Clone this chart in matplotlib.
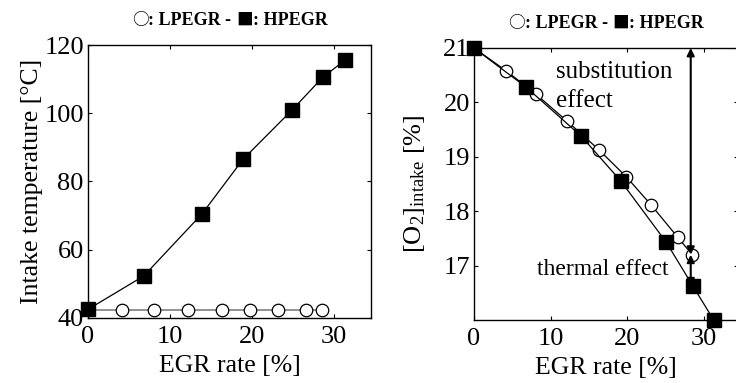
import matplotlib
matplotlib.use('Agg')
import matplotlib.pyplot as plt
from matplotlib.offsetbox import TextArea, HPacker, AnchoredOffsetbox

plt.rcParams['font.family'] = ['Liberation Serif', 'DejaVu Serif']
plt.rcParams['mathtext.fontset'] = 'custom'
plt.rcParams['mathtext.rm'] = 'Liberation Serif'
plt.rcParams['mathtext.it'] = 'Liberation Serif'

# intake temperature
hp_egr_t = [0, 6.8, 13.9, 18.9, 24.9, 28.6, 31.3]
hp_temp = [42.5, 52.3, 70.5, 86.5, 101, 110.5, 115.5]
lp_egr_t = [4.2, 8.0, 12.2, 16.3, 19.7, 23.1, 26.6, 28.5]
lp_temp = [42.2, 42.2, 42.2, 42.2, 42.2, 42.2, 42.2, 42.2]

# intake O2
hp_egr_o = [0, 6.8, 14.0, 19.2, 25.1, 28.6, 31.3]
hp_o2 = [21.0, 20.28, 19.38, 18.55, 17.43, 16.62, 16.0]
lp_egr_o = [0, 4.2, 8.1, 12.2, 16.3, 19.9, 23.1, 26.6, 28.5]
lp_o2 = [21.0, 20.58, 20.15, 19.65, 19.13, 18.63, 18.12, 17.52, 17.2]

title_parts = [('○', True), (': LPEGR - ', False), ('■', True), (': HPEGR', False)]


def add_title(ax):
    boxes = []
    for s, sym in title_parts:
        if sym:
            props = dict(fontsize=12, family=['Noto Sans CJK JP'], color='black')
        else:
            props = dict(fontsize=13, fontweight='bold', color='black')
        boxes.append(TextArea(s, textprops=props))
    pack = HPacker(children=boxes, align='baseline', pad=0, sep=0)
    box = AnchoredOffsetbox(loc='lower center', child=pack, frameon=False,
                            bbox_to_anchor=(0.5, 1.04), bbox_transform=ax.transAxes, borderpad=0)
    ax.add_artist(box)


fig = plt.figure(figsize=(7.36, 3.83), dpi=100)
ax1 = fig.add_axes([0.1196, 0.170, 0.3845, 0.7125])
ax2 = fig.add_axes([0.644, 0.1645, 0.359, 0.7102])

for ax in (ax1, ax2):
    ax.tick_params(direction='in', top=True, right=True, labelsize=19, length=3, pad=3)
    ax.tick_params(axis='x', pad=6)
    ax.set_xlim(0, 34.5)
    ax.set_xticks([0, 10, 20, 30])
    ax.set_xlabel('EGR rate [%]', fontsize=18.5, labelpad=5)
    add_title(ax)
    for s in ax.spines.values():
        s.set_linewidth(1.0)

# left panel
ax1.plot([0, 29], [lp_temp[0], lp_temp[-1]], color='#808080', lw=1.2, zorder=2)
ax1.plot(lp_egr_t, lp_temp, 'o', mfc='white', mec='black', ms=9, mew=0.9, clip_on=False, zorder=3)
ax1.plot(hp_egr_t, hp_temp, 's-', color='black', lw=0.9, ms=10, clip_on=False, zorder=4)
ax1.set_ylim(40, 120)
ax1.set_yticks([40, 60, 80, 100, 120])
ax1.set_ylabel('Intake temperature [°C]', fontsize=18.5, labelpad=1)

# right panel
ax2.plot(lp_egr_o, lp_o2, 'o-', color='black', mfc='white', mec='black', lw=0.9, ms=9, mew=0.9,
         clip_on=False, zorder=3)
ax2.plot(hp_egr_o, hp_o2, 's-', color='black', lw=0.9, ms=10, clip_on=False, zorder=4)
ax2.set_ylim(16, 21)
ax2.set_yticks([17, 18, 19, 20, 21])
ax2.set_ylabel('[O$_2$]$_{\\mathrm{intake}}$ [%]', fontsize=19, labelpad=12)

ax2.annotate('', xy=(28.3, 21.0), xytext=(28.3, lp_o2[-1]),
             arrowprops=dict(arrowstyle='<|-|>', color='black', lw=1.5, mutation_scale=11,
                             shrinkA=0, shrinkB=0))
ax2.annotate('', xy=(28.3, lp_o2[-1]), xytext=(28.3, hp_o2[-2]),
             arrowprops=dict(arrowstyle='<|-|>', color='black', lw=1.5, mutation_scale=11,
                             shrinkA=0, shrinkB=0))
ax2.text(10.7, 20.45, 'substitution', fontsize=18, va='baseline', ha='left')
ax2.text(10.7, 19.92, 'effect', fontsize=18, va='baseline', ha='left')
ax2.text(8.2, 16.83, 'thermal effect', fontsize=17, va='baseline', ha='left')

fig.savefig('out.png', dpi=100)
